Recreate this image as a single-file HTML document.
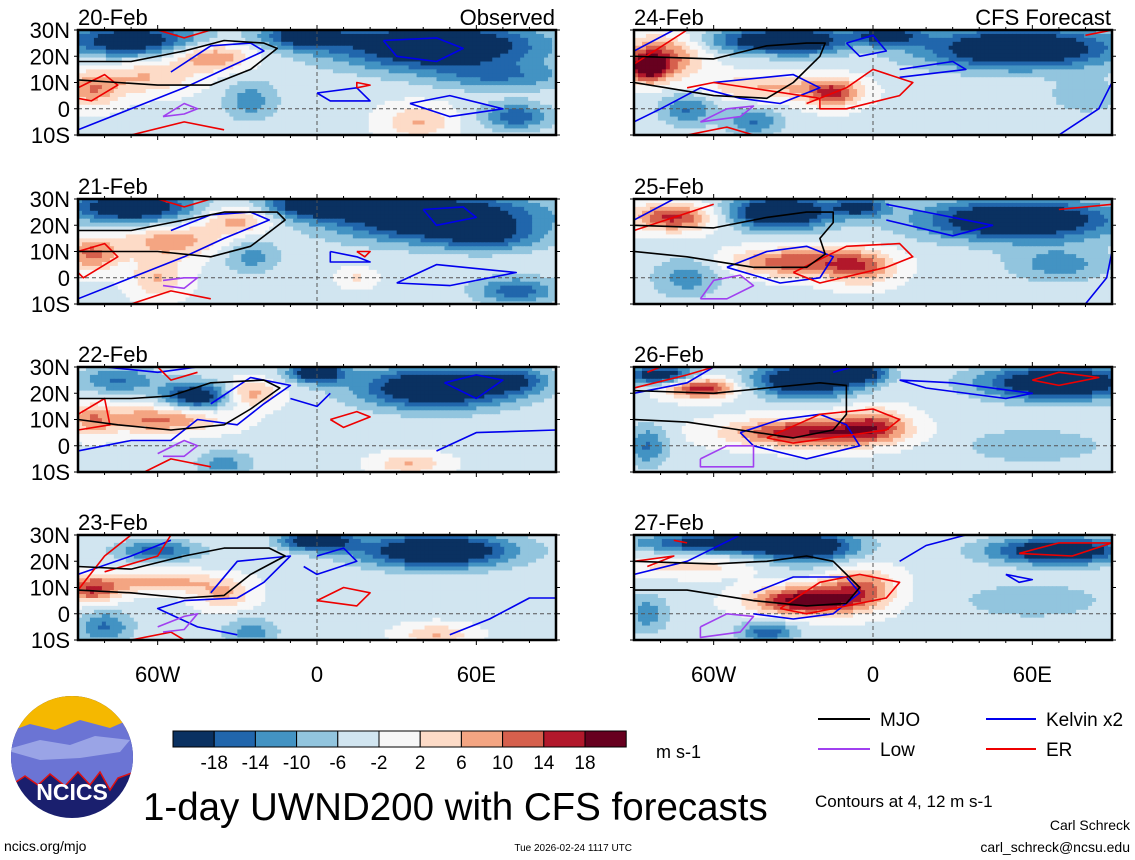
<!DOCTYPE html>
<html><head><meta charset="utf-8"><style>
html,body{margin:0;padding:0;background:#fff;}
svg{display:block;font-family:"Liberation Sans",Arial,sans-serif;}
</style></head><body>
<svg id="chart" width="1135" height="860" viewBox="0 0 1135 860" xmlns="http://www.w3.org/2000/svg">
<g id="panels"></g>
<g id="legendcb"></g>
<g>
  <defs><clipPath id="lc"><ellipse cx="72" cy="757" rx="61" ry="61"/></clipPath></defs>
  <g clip-path="url(#lc)">
    <rect x="0" y="690" width="140" height="140" fill="#1a1f6e"/>
    <rect x="0" y="690" width="140" height="45" fill="#f5b800"/>
    <path d="M0 735 L30 724 L55 730 L80 720 L110 728 L140 715 L140 770 L118 778 L110 790 L100 772 L90 785 L78 772 L65 786 L50 774 L38 785 L25 776 L10 786 L0 780 Z" fill="#6b74d4"/>
    <path d="M5 750 L40 740 L70 745 L95 736 L130 740 L120 752 L80 758 L40 760 Z" fill="#9aa4e6"/>
    <path d="M10 786 L25 776 L38 785 L50 774 L65 786 L78 772 L90 785 L100 772 L110 790 L118 778 L140 770" fill="none" stroke="#e01010" stroke-width="1.5"/>
  </g>
  <text x="72" y="800" text-anchor="middle" font-size="23" font-weight="bold" fill="#fff">NCICS</text>
</g>
<text x="143" y="820" font-size="38.5">1-day UWND200 with CFS forecasts</text>
<text x="4" y="851" font-size="14">ncics.org/mjo</text>
<text x="632" y="851" font-size="10" text-anchor="end">Tue 2026-02-24 1117 UTC</text>
<text x="656" y="758" font-size="18">m s-1</text>
<g>
  <line x1="818" y1="719" x2="870" y2="719" stroke="#000" stroke-width="2"/>
  <text x="880" y="726" font-size="19">MJO</text>
  <line x1="986" y1="719" x2="1036" y2="719" stroke="#0000ee" stroke-width="2"/>
  <text x="1046" y="726" font-size="19">Kelvin x2</text>
  <line x1="818" y1="749" x2="870" y2="749" stroke="#a040f0" stroke-width="2"/>
  <text x="880" y="756" font-size="19">Low</text>
  <line x1="986" y1="749" x2="1036" y2="749" stroke="#ee0000" stroke-width="2"/>
  <text x="1046" y="756" font-size="19">ER</text>
  <text x="815" y="807" font-size="17">Contours at 4, 12 m s-1</text>
  <text x="1130" y="830" font-size="14" text-anchor="end">Carl Schreck</text>
  <text x="1130" y="852" font-size="14" text-anchor="end">carl_schreck@ncsu.edu</text>
</g>
</svg>
<script>
const NS="http://www.w3.org/2000/svg";
// colorbar data
const levels=[-18,-14,-10,-6,-2,2,6,10,14,18];
const colors=["#0a3161","#2166ac","#4393c3","#92c5de","#d1e5f0","#f7f7f7","#fddbc7","#f4a582","#d6604d","#b2182b","#67001f"];
// panel definitions
const panelDates=["20-Feb","21-Feb","22-Feb","23-Feb","24-Feb","25-Feb","26-Feb","27-Feb"];
const baseWind=-3;
// wind anomaly features per panel: [lon, lat, lonRadius, latRadius, m/s]
const windFeatures=[
 [[-70,26,20,5,-18],[-5,28,12,4,-16],[45,24,30,7,-22],[-40,20,12,4,12],[-65,12,15,5,8],[-85,7,8,5,10],[-25,3,8,6,-8],[38,-5,10,5,8],[75,-3,10,4,-12],[70,12,20,4,-8]],
 [[-70,27,18,5,-20],[0,28,15,4,-18],[45,23,30,7,-22],[-30,22,10,4,10],[-55,14,15,5,10],[-85,9,8,5,12],[-60,0,8,6,8],[-25,8,8,5,-8],[75,-5,12,4,-12],[65,15,15,4,-8],[15,0,5,3,5]],
 [[-45,19,10,4,-18],[-75,25,12,4,-10],[0,28,8,3,-20],[45,22,22,6,-22],[75,25,10,4,-10],[-60,10,18,4,12],[-25,20,8,4,10],[-85,10,6,5,8],[35,-7,10,3,8],[-35,-7,8,4,-8]],
 [[-60,24,12,3,-12],[0,28,10,3,-20],[45,24,22,5,-22],[-85,9,8,4,14],[-60,12,18,3,10],[-35,7,8,4,8],[45,-8,10,3,8],[-80,-5,8,5,-10],[-25,-7,8,4,-8]],
 [[-45,26,15,4,-14],[-25,26,12,4,-16],[5,28,10,3,-16],[55,23,28,6,-22],[-80,20,12,6,14],[-85,15,6,4,16],[-40,8,20,4,8],[-15,6,8,4,14],[-70,0,8,5,-10],[-45,-5,8,4,-10],[80,5,10,5,-6]],
 [[-35,25,15,5,-22],[-5,27,8,3,-14],[55,22,28,6,-22],[-75,23,12,4,16],[-30,6,18,4,14],[-5,4,10,5,12],[-70,0,10,6,-8],[70,5,15,5,-8]],
 [[-80,27,10,3,-18],[-25,25,15,5,-22],[-5,28,8,3,-16],[70,24,22,5,-22],[-65,22,10,3,18],[-25,5,22,4,18],[0,8,10,5,12],[-85,0,6,6,-10],[60,0,20,5,-6]],
 [[-55,27,25,3,-18],[-25,25,15,5,-16],[70,24,20,4,-20],[-70,18,20,3,6],[-25,5,15,4,22],[-5,10,10,6,12],[-40,-7,8,3,-12],[-85,0,6,6,-8],[60,5,20,5,-6]]
];
// contour lines (lon,lat pairs)
const mjoLines=[
 [-90,18,-70,18,-50,22,-35,26,-20,25,-15,23,-25,15,-40,9,-60,9,-75,10,-90,11],
 [-90,18,-70,18,-50,22,-35,25,-15,25,-12,22,-25,12,-40,8,-60,10,-90,10],
 [-90,18,-70,18,-55,19,-40,24,-20,25,-14,22,-25,14,-35,8,-55,6,-75,8,-90,10],
 [-90,18,-70,17,-50,22,-35,25,-18,25,-12,22,-25,15,-35,7,-50,6,-70,8,-90,9],
 [-90,20,-60,19,-40,24,-25,25,-18,25,-20,20,-30,10,-40,4,-60,5,-90,10],
 [-90,20,-60,19,-40,23,-25,25,-15,25,-15,21,-20,15,-18,9,-25,4,-45,4,-70,8,-90,10],
 [-90,21,-60,20,-40,22,-20,24,-10,23,-10,12,-15,6,-30,3,-50,6,-70,9,-90,10],
 [-90,20,-60,19,-40,20,-25,22,-15,20,-5,10,-10,4,-25,3,-45,5,-70,9,-90,9]
];
const kelvinLines=[
 [[-55,14,-40,24,-25,25,-20,22,-35,15,-50,8,-60,4,-70,0,-90,-8],[25,26,45,27,55,23,45,18,30,20,25,26],[35,2,50,5,70,0,50,-3,35,2],[0,6,15,8,20,3,5,3,0,6]],
 [[-55,18,-40,24,-25,25,-18,22,-35,15,-50,8,-65,2,-90,-8],[40,26,55,27,60,23,45,20,40,26],[30,-2,45,5,75,2,50,-3,30,-2],[5,10,15,8,20,6,5,6,5,10]],
 [[-80,30,-60,28,-45,30],[-40,16,-25,26,-10,23,-20,16,-30,8,-45,10,-55,2,-70,2,-90,-2],[48,24,60,27,70,25,60,18,48,24],[45,-2,60,5,90,6],[5,20,0,15,-10,18]],
 [[-90,15,-70,22,-55,28],[-40,8,-30,20,-10,22,-20,12,-30,6,-50,5,-60,2,-45,-5,-30,-8],[0,22,10,25,15,20,0,15,-5,18],[50,-8,65,-2,80,6,90,6]],
 [[-90,22,-75,30],[-60,10,-30,13,-20,8,-35,2,-50,4,-65,8,-80,0,-90,-5],[-10,25,0,28,5,22,-5,20,-10,25],[10,15,30,18,35,15,10,12],[70,-10,85,0,90,10]],
 [[-90,22,-75,30],[-55,4,-40,10,-25,12,-15,8,-20,0,-35,-2,-55,4],[5,28,20,25,45,20,30,16,5,22],[80,-10,88,0,90,10]],
 [[-90,20,-70,24,-60,30],[-50,5,-35,10,-20,12,-10,8,-5,0,-25,-5,-45,0,-50,5],[10,25,20,22,50,18,60,20,30,24,10,25],[-15,28,-8,30]],
 [[-90,15,-70,20,-50,30],[-45,8,-30,14,-10,14,-5,8,-15,0,-30,-2,-45,0],[10,20,20,26,35,30],[50,15,60,13,55,12,50,15]]
];
const erLines=[
 [[-60,30,-50,27,-40,30],[-90,8,-80,13,-75,9,-85,3,-90,4],[15,8,20,9,15,10,15,8],[-70,-10,-50,-5,-35,-8]],
 [[-60,30,-50,27,-40,30],[-90,10,-80,13,-75,8,-88,0,-90,2],[15,10,20,10,18,8,15,10],[-70,-10,-55,-5,-40,-8]],
 [[-60,30,-55,25,-45,28],[-90,12,-80,18,-78,8,-90,6],[5,10,15,13,20,11,10,7,5,10],[-65,-10,-55,-5,-40,-8]],
 [[-90,9,-80,22,-70,30],[-55,30,-60,22,-80,16],[0,5,10,10,20,8,15,3,0,5],[-70,-10,-55,-7,-50,-10]],
 [[-90,17,-70,30],[-70,8,-60,10,-20,4,-20,0,-10,0,10,5,15,10,0,15,-10,8,-25,2],[-70,-10,-55,-7,-45,-10],[80,28,90,30]],
 [[-90,18,-60,28],[-30,2,-10,12,10,13,15,8,5,4,-20,-2,-30,2],[70,26,90,28]],
 [[-90,22,-70,27,-60,30],[-85,28,-80,30],[-40,3,-20,12,0,14,10,10,5,6,-30,1,-40,3],[60,25,70,28,85,26,70,23,60,25]],
 [[-90,20,-75,22,-85,18],[-75,28,-70,27],[-35,2,-20,12,-5,15,10,12,5,6,-25,0,-35,2],[55,23,70,27,90,27,75,22,55,23]]
];
const lowLines=[
 [-58,-3,-50,2,-45,0,-50,-2,-58,-3],
 [-58,-1,-50,0,-45,0,-50,-4,-58,-3],
 [-60,-3,-50,2,-45,0,-50,-4,-58,-4],
 [-60,-5,-50,-1,-45,0,-50,-6,-58,-7],
 [-65,-5,-55,0,-45,1,-50,-3,-65,-5],
 [-65,-8,-60,-1,-50,1,-45,-3,-55,-8,-65,-8],
 [-65,-5,-55,0,-45,0,-45,-8,-65,-8,-65,-5],
 [-65,-5,-55,0,-45,-1,-50,-7,-65,-9,-65,-5]
];
const latTicks=["30N","20N","10N","0","10S"];
const lonTicks=["60W","0","60E"];
const lonTickVals=[-60,0,60];

const PW=478, PH=105;
const panelX=[78,78,78,78,634,634,634,634];
const panelY=[30,199,367,535,30,199,367,535];
function colorFor(v){let i=0;while(i<levels.length&&v>=levels[i])i++;return colors[i];}
function mk(tag,attrs,parent){const e=document.createElementNS(NS,tag);for(const k in attrs)e.setAttribute(k,attrs[k]);parent.appendChild(e);return e;}
const root=document.getElementById('panels');

for(let p=0;p<8;p++){
  const x0=panelX[p], y0=panelY[p];
  const xs=lon=>x0+(lon+90)*PW/180;
  const ys=lat=>y0+(30-lat)*PH/40;
  const g=mk('g',{},root);
  
  
  const clipId='cp'+p;
  const cp=mk('clipPath',{id:clipId},g);mk('rect',{x:x0,y:y0,width:PW,height:PH},cp);
  const field=mk('g',{'clip-path':'url(#'+clipId+')'},g);
  
  
  const feats=windFeatures[p];
  const step=1.5;
  for(let lat=30;lat>-10;lat-=step){
    for(let lon=-90;lon<90;lon+=step){
      const cl=lon+step/2, ct=lat-step/2;
      let v=baseWind;
      for(const f of feats){const dx=(cl-f[0])/f[2],dy=(ct-f[1])/f[3];v+=1.15*f[4]*Math.exp(-0.6*(dx*dx+dy*dy));}
      const r=mk('rect',{x:xs(lon).toFixed(2),y:ys(lat).toFixed(2),width:(step*PW/180+0.6).toFixed(2),height:(step*PH/40+0.6).toFixed(2),fill:colorFor(v)},field);
      
      
    }
  }
  mk('line',{x1:x0,y1:ys(0),x2:x0+PW,y2:ys(0),stroke:'#555','stroke-width':1,'stroke-dasharray':'4,3'},field);
  mk('line',{x1:xs(0),y1:y0,x2:xs(0),y2:y0+PH,stroke:'#555','stroke-width':1,'stroke-dasharray':'4,3'},field);
  const path=(pts,col,name)=>{let d='';for(let i=0;i<pts.length;i+=2)d+=(i?'L':'M')+xs(pts[i]).toFixed(1)+' '+ys(pts[i+1]).toFixed(1);
    const e=mk('path',{d:d,fill:'none',stroke:col,'stroke-width':1.6,'stroke-linejoin':'round'},field);
    
    };
  kelvinLines[p].forEach(l=>path(l,'#0000ee','kelvin-contour'));
  erLines[p].forEach(l=>path(l,'#ee0000','er-contour'));
  path(lowLines[p],'#a040f0','low-contour');
  path(mjoLines[p],'#000','mjo-contour');
  const fr=mk('rect',{x:x0,y:y0,width:PW,height:PH,fill:'none',stroke:'#000','stroke-width':2.5},g);
  
  
  for(let lon=-80;lon<=80;lon+=10){const big=lonTickVals.includes(lon);
    mk('line',{x1:xs(lon),y1:y0+PH,x2:xs(lon),y2:y0+PH+(big?5:3),stroke:'#000','stroke-width':1},g);
    mk('line',{x1:xs(lon),y1:y0,x2:xs(lon),y2:y0-(big?5:3),stroke:'#000','stroke-width':1},g);}
  for(let lat=-10;lat<=30;lat+=10){mk('line',{x1:x0-4,y1:ys(lat),x2:x0,y2:ys(lat),stroke:'#000'},g);mk('line',{x1:x0+PW,y1:ys(lat),x2:x0+PW+4,y2:ys(lat),stroke:'#000'},g);}
  const t=mk('text',{x:x0,y:y0-5,'font-size':22},g);t.textContent=panelDates[p];
  
  
  if(p<4){latTicks.forEach((s,i)=>{const lt=mk('text',{x:70,y:ys(30-i*10)+8,'font-size':22,'text-anchor':'end'},g);lt.textContent=s;
    
    });}
  if(p===0||p===4){const h=mk('text',{x:x0+PW-1,y:y0-5,'font-size':22,'text-anchor':'end'},g);h.textContent=p===0?'Observed':'CFS Forecast';
    
    }
  if(p===3||p===7){lonTickVals.forEach((lv,i)=>{const lt=mk('text',{x:xs(lv),y:682,'font-size':22,'text-anchor':'middle'},g);lt.textContent=lonTicks[i];
    
    });}
}
const cb=document.getElementById('legendcb');
const cbx=173,cby=731,cbw=41.2,cbh=16;
colors.forEach((c,i)=>{const r=mk('rect',{x:cbx+i*cbw,y:cby,width:cbw,height:cbh,fill:c,stroke:'#000','stroke-width':1},cb);
  
  });
levels.forEach((l,i)=>{const t=mk('text',{x:cbx+(i+1)*cbw,y:cby+38,'font-size':19,'text-anchor':'middle'},cb);t.textContent=l;
  
  });
</script>
</body></html>
